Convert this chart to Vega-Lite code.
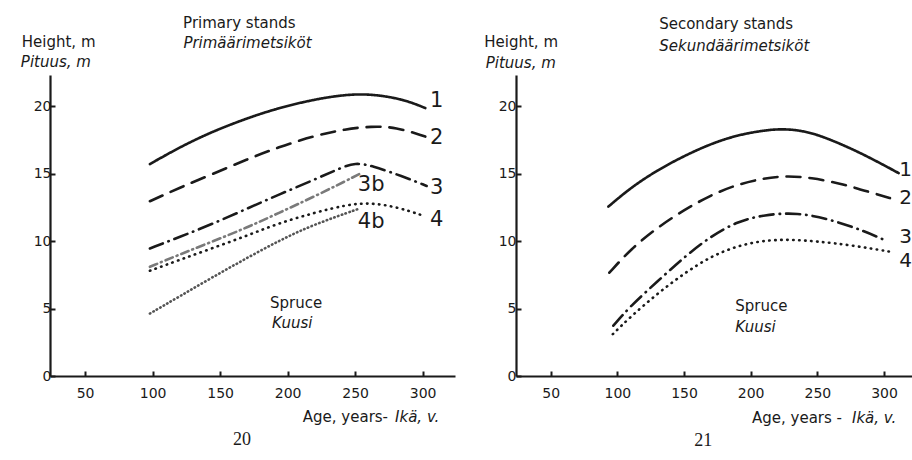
{
  "$schema": "https://vega.github.io/schema/vega-lite/v6.json",
  "autosize": {"type": "none"},
  "padding": {"left": 50, "top": 75, "right": 862, "bottom": 385},
  "background": "#ffffff",
  "bounds": "flush",
  "spacing": 61,
  "config": {
    "font": "DejaVu Sans",
    "view": {"stroke": null},
    "axis": {
      "domainColor": "#1a1a1a", "domainWidth": 2.2,
      "tickColor": "#1a1a1a", "tickWidth": 2, "tickSize": -5,
      "labelColor": "#1a1a1a", "labelFontSize": 14, "labelFont": "DejaVu Sans",
      "grid": false, "title": null
    },
    "text": {"color": "#1a1a1a", "font": "DejaVu Sans", "fontSize": 15}
  },
  "datasets": {
    "primary": [
      {"age": 98, "height": 15.7, "curve": "1"}, {"age": 120, "height": 16.95, "curve": "1"}, {"age": 144, "height": 18.1, "curve": "1"}, {"age": 170, "height": 19.1, "curve": "1"}, {"age": 193, "height": 19.85, "curve": "1"}, {"age": 220, "height": 20.5, "curve": "1"}, {"age": 243, "height": 20.85, "curve": "1"}, {"age": 262, "height": 20.9, "curve": "1"}, {"age": 286, "height": 20.5, "curve": "1"}, {"age": 302, "height": 19.85, "curve": "1"},
      {"age": 98, "height": 12.95, "curve": "2"}, {"age": 120, "height": 13.95, "curve": "2"}, {"age": 144, "height": 14.95, "curve": "2"}, {"age": 170, "height": 16.05, "curve": "2"}, {"age": 193, "height": 16.95, "curve": "2"}, {"age": 220, "height": 17.8, "curve": "2"}, {"age": 243, "height": 18.3, "curve": "2"}, {"age": 262, "height": 18.5, "curve": "2"}, {"age": 280, "height": 18.45, "curve": "2"}, {"age": 302, "height": 17.74, "curve": "2"},
      {"age": 98, "height": 9.45, "curve": "3"}, {"age": 120, "height": 10.3, "curve": "3"}, {"age": 144, "height": 11.25, "curve": "3"}, {"age": 170, "height": 12.4, "curve": "3"}, {"age": 193, "height": 13.42, "curve": "3"}, {"age": 220, "height": 14.55, "curve": "3"}, {"age": 240, "height": 15.45, "curve": "3"}, {"age": 250, "height": 15.8, "curve": "3"}, {"age": 262, "height": 15.6, "curve": "3"}, {"age": 285, "height": 14.8, "curve": "3"}, {"age": 303, "height": 14.08, "curve": "3"},
      {"age": 98, "height": 8.09, "curve": "3b"}, {"age": 120, "height": 9.0, "curve": "3b"}, {"age": 144, "height": 9.95, "curve": "3b"}, {"age": 170, "height": 11.0, "curve": "3b"}, {"age": 193, "height": 12.06, "curve": "3b"}, {"age": 220, "height": 13.3, "curve": "3b"}, {"age": 253, "height": 14.95, "curve": "3b"},
      {"age": 98, "height": 7.8, "curve": "4"}, {"age": 120, "height": 8.6, "curve": "4"}, {"age": 144, "height": 9.46, "curve": "4"}, {"age": 170, "height": 10.4, "curve": "4"}, {"age": 193, "height": 11.31, "curve": "4"}, {"age": 220, "height": 12.1, "curve": "4"}, {"age": 243, "height": 12.67, "curve": "4"}, {"age": 260, "height": 12.85, "curve": "4"}, {"age": 280, "height": 12.55, "curve": "4"}, {"age": 299, "height": 11.93, "curve": "4"},
      {"age": 98, "height": 4.63, "curve": "4b"}, {"age": 120, "height": 5.9, "curve": "4b"}, {"age": 144, "height": 7.3, "curve": "4b"}, {"age": 170, "height": 8.75, "curve": "4b"}, {"age": 195, "height": 10.1, "curve": "4b"}, {"age": 220, "height": 11.25, "curve": "4b"}, {"age": 254, "height": 12.43, "curve": "4b"}
    ],
    "secondary": [
      {"age": 93.3, "height": 12.55, "curve": "1"}, {"age": 110, "height": 13.95, "curve": "1"}, {"age": 130, "height": 15.25, "curve": "1"}, {"age": 150, "height": 16.3, "curve": "1"}, {"age": 170, "height": 17.2, "curve": "1"}, {"age": 190, "height": 17.85, "curve": "1"}, {"age": 210, "height": 18.2, "curve": "1"}, {"age": 225, "height": 18.33, "curve": "1"}, {"age": 245, "height": 18.1, "curve": "1"}, {"age": 270, "height": 17.1, "curve": "1"}, {"age": 290, "height": 16.15, "curve": "1"}, {"age": 311, "height": 15.03, "curve": "1"},
      {"age": 94, "height": 7.65, "curve": "2"}, {"age": 110, "height": 9.4, "curve": "2"}, {"age": 130, "height": 11.0, "curve": "2"}, {"age": 150, "height": 12.3, "curve": "2"}, {"age": 170, "height": 13.4, "curve": "2"}, {"age": 190, "height": 14.2, "curve": "2"}, {"age": 210, "height": 14.65, "curve": "2"}, {"age": 225, "height": 14.82, "curve": "2"}, {"age": 245, "height": 14.72, "curve": "2"}, {"age": 270, "height": 14.2, "curve": "2"}, {"age": 290, "height": 13.6, "curve": "2"}, {"age": 307, "height": 13.11, "curve": "2"},
      {"age": 97, "height": 3.73, "curve": "3"}, {"age": 110, "height": 5.2, "curve": "3"}, {"age": 130, "height": 7.0, "curve": "3"}, {"age": 150, "height": 8.8, "curve": "3"}, {"age": 170, "height": 10.35, "curve": "3"}, {"age": 190, "height": 11.45, "curve": "3"}, {"age": 210, "height": 11.95, "curve": "3"}, {"age": 235, "height": 12.12, "curve": "3"}, {"age": 260, "height": 11.6, "curve": "3"}, {"age": 285, "height": 10.75, "curve": "3"}, {"age": 302, "height": 10.0, "curve": "3"},
      {"age": 96.6, "height": 3.1, "curve": "4"}, {"age": 110, "height": 4.4, "curve": "4"}, {"age": 130, "height": 6.1, "curve": "4"}, {"age": 150, "height": 7.6, "curve": "4"}, {"age": 170, "height": 8.85, "curve": "4"}, {"age": 190, "height": 9.65, "curve": "4"}, {"age": 210, "height": 10.05, "curve": "4"}, {"age": 230, "height": 10.12, "curve": "4"}, {"age": 250, "height": 9.97, "curve": "4"}, {"age": 275, "height": 9.7, "curve": "4"}, {"age": 305, "height": 9.2, "curve": "4"}
    ]
  },
  "hconcat": [
    {
      "width": 405,
      "height": 301,
      "encoding": {
        "x": {"field": "age", "type": "quantitative", "scale": {"domain": [24, 324], "nice": false, "zero": false}, "axis": {"values": [50, 100, 150, 200, 250, 300], "labelPadding": 15}},
        "y": {"field": "height", "type": "quantitative", "scale": {"domain": [0, 22.3], "nice": false}, "axis": {"values": [0, 5, 10, 15, 20], "labelPadding": 4}}
      },
      "layer": [
        {
          "data": {"name": "primary"},
          "mark": {"type": "line", "interpolate": "basis", "strokeCap": "round"},
          "encoding": {
            "detail": {"field": "curve"},
            "strokeDash": {"field": "curve", "type": "nominal", "scale": {"domain": ["1", "2", "3", "3b", "4", "4b"], "range": [[1, 0], [14, 9], [14, 6, 0.5, 6], [8, 4, 1, 4], [0.5, 5.5], [0.5, 3.5]]}, "legend": null},
            "strokeWidth": {"field": "curve", "type": "nominal", "scale": {"domain": ["1", "2", "3", "3b", "4", "4b"], "range": [2.6, 2.6, 2.6, 1.1, 3.2, 1.6]}, "legend": null},
            "color": {"field": "curve", "type": "nominal", "scale": {"domain": ["1", "2", "3", "3b", "4", "4b"], "range": ["#1a1a1a", "#1a1a1a", "#1a1a1a", "#7a7a7a", "#1a1a1a", "#555555"]}, "legend": null}
          }
        },
        {
          "data": {"values": [
            {"age": 305.5, "height": 20.34, "curve": "1"}, {"age": 305.5, "height": 17.6, "curve": "2"}, {"age": 305.5, "height": 13.9, "curve": "3"}, {"age": 252, "height": 14.16, "curve": "3b"}, {"age": 305.5, "height": 11.56, "curve": "4"}, {"age": 252, "height": 11.43, "curve": "4b"}
          ]},
          "mark": {"type": "text", "align": "left", "baseline": "middle", "fontSize": 21},
          "encoding": {"text": {"field": "curve"}}
        },
        {
          "data": {"values": [
            {"age": 122.6, "height": 26.18, "text": "Primary stands"},
            {"age": 3.1, "height": 24.72, "text": "Height, m"},
            {"age": 187, "height": 5.4, "text": "Spruce"}
          ]},
          "mark": {"type": "text", "align": "left", "baseline": "middle"},
          "encoding": {"text": {"field": "text"}}
        },
        {
          "data": {"values": [
            {"age": 122.8, "height": 24.7, "text": "Primäärimetsiköt"},
            {"age": 2.4, "height": 23.29, "text": "Pituus, m"},
            {"age": 188.5, "height": 3.94, "text": "Kuusi"},
            {"age": 279.6, "height": -3.07, "text": "Ikä, v."}
          ]},
          "mark": {"type": "text", "align": "left", "baseline": "middle", "fontStyle": "italic"},
          "encoding": {"text": {"field": "text"}}
        },
        {
          "data": {"values": [{"age": 274.4, "height": -3.07, "text": "Age, years-"}]},
          "mark": {"type": "text", "align": "right", "baseline": "middle"},
          "encoding": {"text": {"field": "text"}}
        },
        {
          "data": {"values": [{"age": 166.3, "height": -4.77, "text": "20"}]},
          "mark": {"type": "text", "align": "center", "baseline": "middle", "font": "Liberation Serif", "fontSize": 18},
          "encoding": {"text": {"field": "text"}}
        }
      ]
    },
    {
      "width": 400,
      "height": 301,
      "encoding": {
        "x": {"field": "age", "type": "quantitative", "scale": {"domain": [24, 324], "nice": false, "zero": false}, "axis": {"values": [50, 100, 150, 200, 250, 300], "labelPadding": 15}},
        "y": {"field": "height", "type": "quantitative", "scale": {"domain": [0, 22.3], "nice": false}, "axis": {"values": [0, 5, 10, 15, 20], "labelPadding": 5}}
      },
      "layer": [
        {
          "data": {"name": "secondary"},
          "mark": {"type": "line", "interpolate": "basis", "strokeCap": "round"},
          "encoding": {
            "detail": {"field": "curve"},
            "strokeDash": {"field": "curve", "type": "nominal", "scale": {"domain": ["1", "2", "3", "4"], "range": [[1, 0], [14, 9], [16, 5, 0.5, 5], [0.5, 5.5]]}, "legend": null},
            "strokeWidth": {"field": "curve", "type": "nominal", "scale": {"domain": ["1", "2", "3", "4"], "range": [3, 2.8, 2.2, 2.8]}, "legend": null},
            "color": {"value": "#1a1a1a"}
          }
        },
        {
          "data": {"values": [
            {"age": 311.5, "height": 15.28, "curve": "1"}, {"age": 311.5, "height": 13.2, "curve": "2"}, {"age": 311.5, "height": 10.3, "curve": "3"}, {"age": 311.5, "height": 8.5, "curve": "4"}
          ]},
          "mark": {"type": "text", "align": "left", "baseline": "middle", "fontSize": 20},
          "encoding": {"text": {"field": "curve"}}
        },
        {
          "data": {"values": [
            {"age": 131.4, "height": 26.08, "text": "Secondary stands"},
            {"age": 0.2, "height": 24.72, "text": "Height, m"},
            {"age": 188.4, "height": 5.2, "text": "Spruce"}
          ]},
          "mark": {"type": "text", "align": "left", "baseline": "middle"},
          "encoding": {"text": {"field": "text"}}
        },
        {
          "data": {"values": [
            {"age": 131.4, "height": 24.47, "text": "Sekundäärimetsiköt"},
            {"age": 1.3, "height": 23.22, "text": "Pituus, m"},
            {"age": 188.4, "height": 3.6, "text": "Kuusi"},
            {"age": 276, "height": -3.1, "text": "Ikä, v."}
          ]},
          "mark": {"type": "text", "align": "left", "baseline": "middle", "fontStyle": "italic"},
          "encoding": {"text": {"field": "text"}}
        },
        {
          "data": {"values": [{"age": 268.5, "height": -3.1, "text": "Age, years -"}]},
          "mark": {"type": "text", "align": "right", "baseline": "middle"},
          "encoding": {"text": {"field": "text"}}
        },
        {
          "data": {"values": [{"age": 164.4, "height": -4.8, "text": "21"}]},
          "mark": {"type": "text", "align": "center", "baseline": "middle", "font": "Liberation Serif", "fontSize": 18},
          "encoding": {"text": {"field": "text"}}
        }
      ]
    }
  ]
}
